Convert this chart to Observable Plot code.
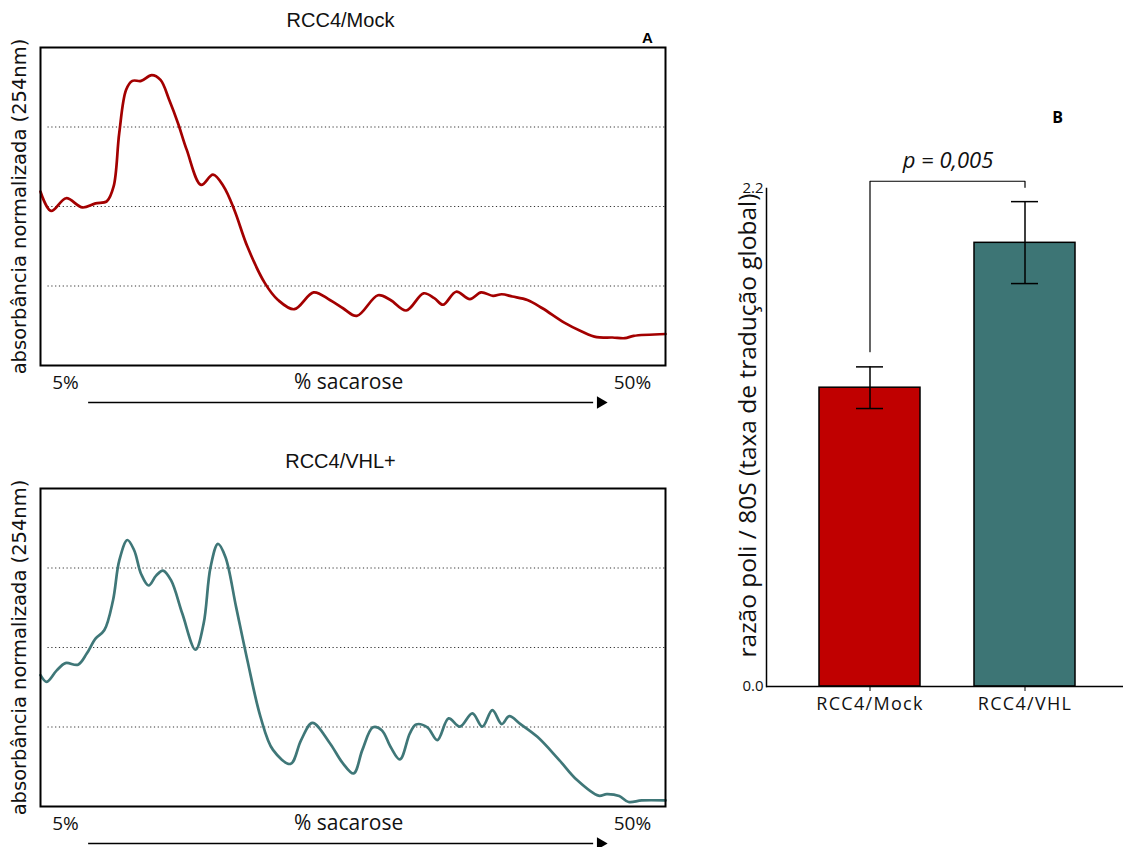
<!DOCTYPE html>
<html><head><meta charset="utf-8">
<script src="https://cdn.jsdelivr.net/npm/d3@7"></script>
<script src="https://cdn.jsdelivr.net/npm/@observablehq/plot@0.6"></script>
<style>
body{margin:0;background:#fff;}
#wrap{position:relative;width:1123px;height:847px;overflow:hidden;background:#fff;}
#wrap svg{position:absolute;overflow:visible;}
.bars g[aria-label="x-axis tick label"] text{letter-spacing:1.3px;}
</style></head><body><div id="wrap"></div>
<script>
// ---- Panel A: absorbance profiles (x = fraction of gradient, y = normalized absorbance) ----
const mockX = [0, 0.017, 0.041, 0.067, 0.088, 0.106, 0.117, 0.126, 0.137, 0.147, 0.161, 0.178, 0.192, 0.206, 0.220, 0.234, 0.257, 0.276, 0.293, 0.310, 0.331, 0.359, 0.380, 0.406, 0.437, 0.463, 0.484, 0.506, 0.540, 0.560, 0.585, 0.613, 0.630, 0.644, 0.665, 0.687, 0.705, 0.724, 0.738, 0.755, 0.779, 0.803, 0.838, 0.866, 0.890, 0.915, 0.935, 0.949, 1.0];
const mockY = [0.547, 0.486, 0.526, 0.497, 0.510, 0.516, 0.563, 0.731, 0.867, 0.895, 0.895, 0.913, 0.898, 0.835, 0.762, 0.678, 0.568, 0.600, 0.563, 0.490, 0.374, 0.259, 0.206, 0.177, 0.230, 0.206, 0.180, 0.156, 0.221, 0.206, 0.173, 0.227, 0.212, 0.191, 0.232, 0.209, 0.230, 0.219, 0.224, 0.217, 0.206, 0.180, 0.135, 0.107, 0.089, 0.088, 0.086, 0.093, 0.099];
const vhlX = [0, 0.010, 0.026, 0.040, 0.060, 0.074, 0.088, 0.102, 0.116, 0.126, 0.139, 0.150, 0.161, 0.173, 0.185, 0.196, 0.209, 0.227, 0.248, 0.261, 0.272, 0.284, 0.296, 0.313, 0.331, 0.352, 0.372, 0.400, 0.417, 0.435, 0.463, 0.483, 0.501, 0.515, 0.532, 0.546, 0.560, 0.575, 0.591, 0.601, 0.619, 0.635, 0.653, 0.671, 0.691, 0.707, 0.723, 0.738, 0.750, 0.768, 0.795, 0.830, 0.858, 0.893, 0.906, 0.926, 0.941, 0.962, 1.0];
const vhlY = [0.413, 0.392, 0.428, 0.451, 0.446, 0.481, 0.528, 0.554, 0.648, 0.773, 0.838, 0.805, 0.731, 0.695, 0.726, 0.742, 0.711, 0.606, 0.493, 0.575, 0.752, 0.826, 0.784, 0.627, 0.460, 0.282, 0.178, 0.134, 0.209, 0.263, 0.199, 0.138, 0.104, 0.178, 0.249, 0.240, 0.188, 0.148, 0.230, 0.258, 0.249, 0.209, 0.277, 0.251, 0.293, 0.251, 0.303, 0.259, 0.284, 0.259, 0.219, 0.146, 0.084, 0.034, 0.039, 0.033, 0.014, 0.019, 0.019];
const gridLevels = [0.25, 0.5, 0.75];
const gradLabels = ["5%", "% sacarose", "50%"];
const gradLabelPos = [0.04, 0.493, 0.947];
const gradLabelSize = [19, 21, 19];
const profileTitles = ["RCC4/Mock", "RCC4/VHL+"];
const profileYLabel = "absorbância normalizada (254nm)";

// ---- Panel B: bar chart ----
const barCats = ["RCC4/Mock", "RCC4/VHL"];
const barValues = [1.32, 1.96];
const errLow = [1.228, 1.780];
const errHigh = [1.412, 2.142];
const barColors = ["#c00000", "#3d7575"];
const bracketLevels = [1.479, 2.232, 2.232, 2.205];
const pLabel = "p = 0,005";
const barYLabel = "razão poli / 80S (taxa de tradução global)";
const barTicks = [0, 2.2];

const wrap = document.getElementById("wrap");

function profile(xs, ys, color, title, top, h, mb, panelLetter) {
  const data = xs.map((x, i) => ({x, y: ys[i]}));
  const labels = gradLabels.map((t, i) => ({t, x: gradLabelPos[i], s: gradLabelSize[i]}));
  const marks = [
    Plot.ruleY(gridLevels, {x1: 0.012, x2: 1, stroke: "#333", strokeWidth: 1.2, strokeDasharray: "1.2,2.6"}),
    Plot.line(data, {x: "x", y: "y", stroke: color, strokeWidth: 2.7, curve: "catmull-rom"}),
    Plot.frame({stroke: "#000", strokeWidth: 2}),
    Plot.text([title], {x: 0.48, frameAnchor: "top", dy: -27, text: d => d, fontFamily: "Liberation Sans, Arial, sans-serif", fontSize: 20, textAnchor: "middle", lineAnchor: "middle", fill: "#111"}),
    Plot.text([profileYLabel], {frameAnchor: "left", dx: -21, rotate: -90, text: d => d, fontFamily: "DejaVu Sans, sans-serif", fontSize: 19.5, textAnchor: "middle", lineAnchor: "middle", fill: "#111"}),
    Plot.text(labels, {x: "x", text: "t", fontSize: "s", frameAnchor: "bottom", dy: 17, fontFamily: "Open Sans, sans-serif", textAnchor: "middle", lineAnchor: "middle", fill: "#111"}),
    Plot.ruleY([0], {x1: 0.077, x2: 0.885, dy: 37, stroke: "#000", strokeWidth: 1.5}),
    Plot.dot([0.896], {x: d => d, frameAnchor: "bottom", dy: 37, symbol: "triangle", rotate: 90, r: 4.6, fill: "#000", stroke: "none"})
  ];
  if (panelLetter) marks.push(Plot.text([panelLetter], {x: 0.971, frameAnchor: "top", dy: -9, text: d => d, fontFamily: "Liberation Sans, Arial, sans-serif", fontWeight: "bold", fontSize: 15, textAnchor: "middle", lineAnchor: "middle", fill: "#000"}));
  const svg = Plot.plot({
    width: 680, height: h,
    marginLeft: 40, marginRight: 15, marginTop: 47, marginBottom: mb,
    x: {domain: [0, 1], axis: null},
    y: {domain: [0, 1], axis: null},
    style: {background: "transparent", overflow: "visible"},
    marks
  });
  svg.style.left = "0px";
  svg.style.top = top + "px";
  wrap.appendChild(svg);
}

profile(mockX, mockY, "#a30000", profileTitles[0], 0, 420, 55, "A");
profile(vhlX, vhlY, "#3f7778", profileTitles[1], 441, 406, 41, null);

// Bar chart
const bars = barCats.map((c, i) => ({cat: c, v: barValues[i], lo: errLow[i], hi: errHigh[i]}));
const bracket = [barCats[0], barCats[0], barCats[1], barCats[1]].map((c, i) => ({cat: c, y: bracketLevels[i]}));
const barSvg = Plot.plot({
  className: "bars",
  width: 423, height: 640,
  marginLeft: 66, marginRight: 0, marginTop: 98, marginBottom: 44,
  x: {domain: barCats, paddingInner: 0.35, paddingOuter: 0.323, align: 0.527},
  y: {domain: [0, 2.2], axis: null},
  color: {domain: barCats, range: barColors},
  style: {background: "transparent", overflow: "visible", fontFamily: "Open Sans, sans-serif"},
  marks: [
    Plot.barY(bars, {x: "cat", y: "v", fill: "cat", stroke: "#000", strokeWidth: 1.5}),
    Plot.ruleX(bars, {x: "cat", y1: "lo", y2: "hi", stroke: "#000", strokeWidth: 1.5}),
    Plot.tickY(bars, {x: "cat", y: "lo", insetLeft: 37, insetRight: 37, stroke: "#000", strokeWidth: 1.5}),
    Plot.tickY(bars, {x: "cat", y: "hi", insetLeft: 37, insetRight: 37, stroke: "#000", strokeWidth: 1.5}),
    Plot.line(bracket, {x: "cat", y: "y", stroke: "#000", strokeWidth: 1.2}),
    Plot.text([pLabel], {frameAnchor: "top", dx: 3, dy: -28, text: d => d, fontFamily: "Open Sans, sans-serif", fontStyle: "italic", fontSize: 22, textAnchor: "middle", lineAnchor: "middle", fill: "#111"}),
    Plot.text(["B"], {frameAnchor: "top-right", dx: -66, dy: -71, text: d => d, fontFamily: "Open Sans, sans-serif", fontWeight: "bold", fontSize: 16, textAnchor: "middle", lineAnchor: "middle", fill: "#000"}),
    Plot.text([barYLabel], {frameAnchor: "left", dx: -18, dy: -12, rotate: -90, text: d => d, fontFamily: "Open Sans, sans-serif", fontSize: 24.5, textAnchor: "middle", lineAnchor: "middle", fill: "#111"}),
    Plot.axisX({tickSize: 5, tickPadding: 6, fontSize: 18, fontFamily: "Open Sans, sans-serif", label: null, fill: "#111"}),
    Plot.text(barTicks, {y: d => d, text: d3.format(".1f"), frameAnchor: "left", dx: -3, textAnchor: "end", lineAnchor: "middle", fontSize: 15, fontFamily: "Open Sans, sans-serif", fill: "#111"}),
    Plot.ruleY([0], {stroke: "#000", strokeWidth: 1.5}),
    Plot.frame({anchor: "left", stroke: "#000", strokeWidth: 1.5})
  ]
});
barSvg.style.left = "700px";
barSvg.style.top = "90px";
wrap.appendChild(barSvg);
</script>
</body></html>
